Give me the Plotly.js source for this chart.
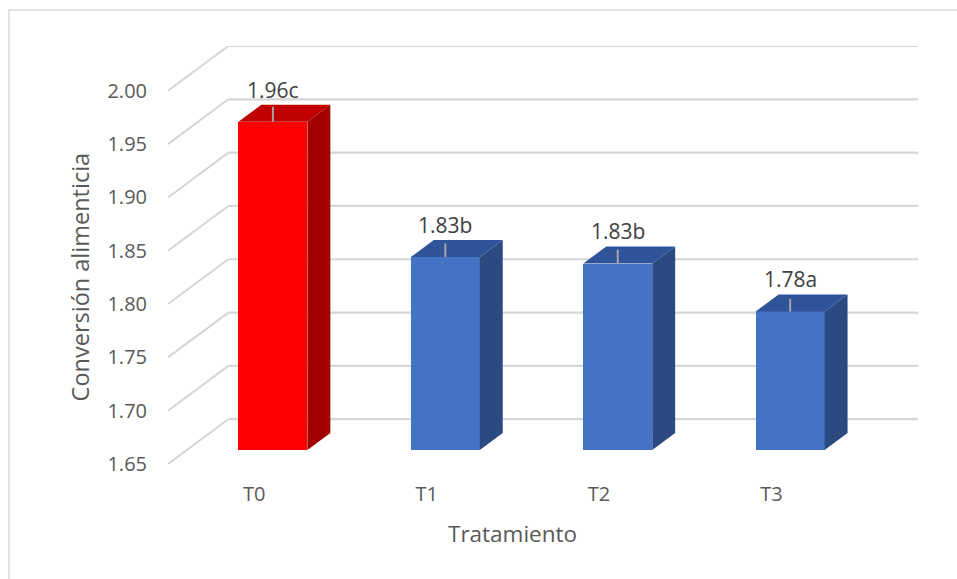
<!DOCTYPE html>
<html>
<head>
<meta charset="utf-8">
<script src="https://cdn.plot.ly/plotly-3.0.1.min.js"></script>
<style>html,body{margin:0;padding:0;background:#fff;}#chart{width:957px;height:579px;}</style>
</head>
<body>
<div id="chart"></div>
<script>
// ---- data ----
const categories = ['T0', 'T1', 'T2', 'T3'];
const values = [1.958, 1.831, 1.825, 1.780];
const dataLabels = ['1.96c', '1.83b', '1.83b', '1.78a'];
const errors = [0.014, 0.013, 0.013, 0.012];
const yTickValues = [1.65, 1.70, 1.75, 1.80, 1.85, 1.90, 1.95, 2.00];
const yTickLabels = ['1.65', '1.70', '1.75', '1.80', '1.85', '1.90', '1.95', '2.00'];
const xTitle = 'Tratamiento';
const yTitle = 'Conversión alimenticia';

// ---- style / geometry (oblique 3D look) ----
const BASE = 1.65;
const DX = 0.35, DY = 0.042;     // full depth offset in axis units
const DF = 0.31, DB = 0.69;      // bar front / back depth fraction
const HALF = 0.2;                // half bar width
const palette = {
  red:  {front: '#FF0000', top: '#C00000', side: '#A00000'},
  blue: {front: '#4472C4', top: '#30549A', side: '#2B4A81'}
};
const barStyle = categories.map((c, i) => i === 0 ? palette.red : palette.blue);
const GRID = '#D6D6D6';
const FONT = 'Open Sans, Noto Sans, sans-serif';

const idx = categories.map((c, i) => i);
const traces = [];

// front faces (bar trace)
traces.push({
  type: 'bar',
  x: idx.map(i => i + DF * DX),
  y: values.map(v => v - BASE),
  base: values.map(() => BASE + DF * DY),
  width: 2 * HALF,
  marker: {color: barStyle.map(s => s.front), line: {width: 0}},
  customdata: values,
  hovertemplate: '%{customdata}<extra></extra>',
  showlegend: false
});

// side and top faces
idx.forEach(i => {
  const v = values[i];
  const xr0 = i + HALF + DF * DX, xr1 = i + HALF + DB * DX;
  const xl0 = i - HALF + DF * DX, xl1 = i - HALF + DB * DX;
  traces.push({
    type: 'scatter', mode: 'lines', fill: 'toself',
    x: [xr0, xr1, xr1, xr0, xr0],
    y: [BASE + DF * DY, BASE + DB * DY, v + DB * DY, v + DF * DY, BASE + DF * DY],
    fillcolor: barStyle[i].side, line: {width: 0}, hoverinfo: 'skip', showlegend: false
  });
  traces.push({
    type: 'scatter', mode: 'lines', fill: 'toself',
    x: [xl0, xr0, xr1, xl1, xl0],
    y: [v + DF * DY, v + DF * DY, v + DB * DY, v + DB * DY, v + DF * DY],
    fillcolor: barStyle[i].top, line: {width: 0}, hoverinfo: 'skip', showlegend: false
  });
});

// error marks
const ex = [], ey = [];
idx.forEach(i => {
  const xc = i + DF * DX, y0 = values[i] + DF * DY;
  ex.push(xc, xc, null);
  ey.push(y0, y0 + errors[i], null);
});
traces.push({type: 'scatter', mode: 'lines', x: ex, y: ey,
  line: {color: '#A6A6A6', width: 2}, hoverinfo: 'skip', showlegend: false});

// gridlines (wall + floor diagonals)
const shapes = [];
yTickValues.forEach(v => {
  shapes.push({type: 'line', layer: 'below', xref: 'x', yref: 'y',
    x0: -0.5, y0: v, x1: -0.5 + DX, y1: v + DY, line: {color: GRID, width: 2}});
  shapes.push({type: 'line', layer: 'below', xref: 'x', yref: 'y',
    x0: -0.5 + DX, y0: v + DY, x1: categories.length - 0.5 + DX, y1: v + DY, line: {color: GRID, width: 2.2}});
});
// outer chart border
const L = 168, R = 39, T = 46, B = 115, W = 957, H = 579;
const pw = W - L - R, ph = H - T - B;
const px = p => (p - L) / pw, py = p => (H - B - p) / ph;
shapes.push({type: 'rect', xref: 'paper', yref: 'paper', layer: 'below',
  x0: px(9), x1: px(965), y0: py(590), y1: py(10), line: {color: '#D9D9D9', width: 1.5}});

const annotations = idx.map(i => ({
  x: i + DF * DX, y: values[i] + DB * DY, xref: 'x', yref: 'y',
  text: dataLabels[i], showarrow: false, yanchor: 'middle', yshift: 15,
  font: {family: FONT, size: 21, color: '#404040'}
}));
annotations.push({x: (categories.length - 1) / 2, y: BASE, xref: 'x', yref: 'y',
  text: xTitle, showarrow: false, yanchor: 'middle', yshift: -69,
  font: {family: FONT, size: 22.5, color: '#595959'}});
annotations.push({x: px(80), y: (BASE + yTickValues[yTickValues.length - 1]) / 2, xref: 'paper', yref: 'y',
  text: yTitle, showarrow: false, textangle: -90, xanchor: 'center', yanchor: 'middle',
  font: {family: FONT, size: 23.5, color: '#595959'}});

const layout = {
  width: W, height: H,
  margin: {l: L, r: R, t: T, b: B, pad: 0},
  paper_bgcolor: '#FFFFFF', plot_bgcolor: 'rgba(0,0,0,0)',
  font: {family: FONT, color: '#595959'},
  xaxis: {range: [-0.5, categories.length - 0.5 + DX], tickvals: idx, ticktext: categories,
    showgrid: false, zeroline: false, showline: false, ticks: '', ticklabelstandoff: 16,
    tickfont: {family: FONT, size: 20, color: '#595959'}, fixedrange: true},
  yaxis: {range: [BASE, yTickValues[yTickValues.length - 1] + DY], tickvals: yTickValues, ticktext: yTickLabels,
    showgrid: false, zeroline: false, showline: false, ticks: '', ticklabelstandoff: 20,
    tickfont: {family: FONT, size: 20, color: '#595959'}, fixedrange: true},
  shapes: shapes,
  annotations: annotations,
  showlegend: false,
  bargap: 0
};

Plotly.newPlot('chart', traces, layout, {displayModeBar: false, staticPlot: false});
</script>
</body>
</html>
